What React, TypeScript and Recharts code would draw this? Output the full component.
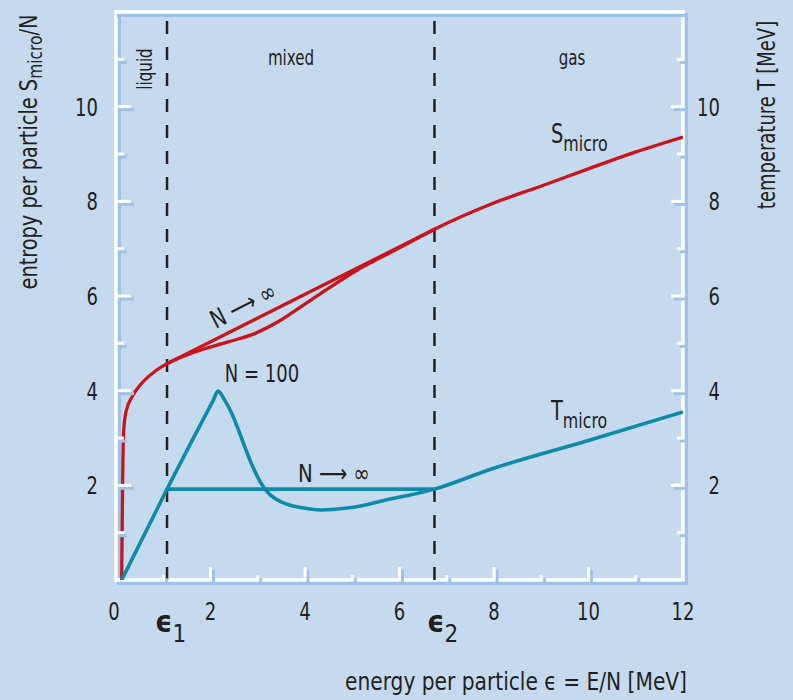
import { LineChart, Line, XAxis, YAxis, ReferenceLine } from 'recharts';

const W = 793;
const H = 700;
const BG = '#c6daef';
const SHADOW = '#9ec1e6';
const INK = '#231f20';
const RED = '#c8151c';
const TEAL = '#0d8aaa';
const FONT = "'DejaVu Sans Condensed', 'DejaVu Sans', sans-serif";

// phase boundaries (MeV)
const EPS1 = 1.08;
const EPS2 = 6.74;

// entropy S_micro/N, N = 100
const sEnergy = [0.12, 0.14, 0.16, 0.21, 0.35, 0.53, 0.8, 1.08, 1.65, 2.37, 2.92, 3.42, 3.91, 4.48, 5.11, 5.5, 6.0, 6.4, 6.74, 7.93, 8.99, 9.98, 10.99, 12];
const sMicro100 = [0, 2.0, 3.1, 3.55, 3.89, 4.14, 4.39, 4.57, 4.81, 5.03, 5.2, 5.45, 5.77, 6.15, 6.55, 6.76, 7.02, 7.23, 7.41, 7.94, 8.32, 8.68, 9.04, 9.36];
// entropy, N -> infinity (only where it differs)
const sInfEnergy = [EPS1, EPS2];
const sMicroInf = [4.57, 7.41];

// temperature T_micro, N = 100
const tEnergy = [0.12, 1.08, 2.06, 2.16, 2.3, 2.45, 2.6, 2.75, 2.9, 3.05, 3.2, 3.4, 3.65, 3.91, 4.33, 4.97, 5.67, 6.74, 7.93, 9.98, 12];
const tMicro100 = [0, 1.92, 3.8, 3.99, 3.8, 3.52, 3.15, 2.75, 2.38, 2.08, 1.86, 1.7, 1.59, 1.53, 1.48, 1.53, 1.68, 1.92, 2.34, 2.94, 3.55];
// temperature, N -> infinity (Maxwell plateau)
const tInfEnergy = [EPS1, EPS2];
const tMicroInf = [1.92, 1.92];

const xTicks = [0, 1, 2, 3, 4, 5, 6, 7, 8, 9, 10, 11, 12];
const xLabels = [0, 2, 4, 6, 8, 10, 12];
const yTicks = [1, 2, 3, 4, 5, 6, 7, 8, 9, 10, 11];
const yLabels = [2, 4, 6, 8, 10];
const topTicks = [1, 2, 3, 4, 5, 6, 7, 8, 9, 10, 11, 12, 13, 14, 15];

const zip = (xs: number[], ys: number[]) => xs.map((x, i) => ({ x, y: ys[i] }));

const whiteMark = (x1: number, y1: number, x2: number, y2: number) => (
  <g>
    <line x1={x1 + 3} y1={y1 + 3} x2={x2 + 3} y2={y2 + 3} stroke={SHADOW} strokeWidth={3} />
    <line x1={x1} y1={y1} x2={x2} y2={y2} stroke="#fff" strokeWidth={3} />
  </g>
);

const text = { fontFamily: FONT, fill: INK };

// condensed text: the installed fonts are wide, so squeeze them horizontally
const Cond = ({ x, y, rotate = 0, anchor = 'start', size, children, ...rest }: any) => (
  <text
    transform={`translate(${x},${y}) rotate(${rotate}) scale(0.8,1)`}
    textAnchor={anchor}
    fontSize={size}
    {...text}
    {...rest}
  >
    {children}
  </text>
);

const BottomTick = (p: any) => {
  const v = p.payload.value;
  const major = v % 2 === 0;
  return (
    <g>
      {v > 0 && v < 12 && whiteMark(p.x, p.y, p.x, p.y - (major ? 13 : 5))}
      {xLabels.includes(v) && (
        <Cond x={v === 0 ? p.x - 2 : p.x} y={p.y + 40} anchor="middle" size={25}>{v}</Cond>
      )}
    </g>
  );
};

const LeftTick = (p: any) => {
  const v = p.payload.value;
  const major = v % 2 === 0;
  return (
    <g>
      {whiteMark(p.x, p.y, p.x + (major ? 15 : 8), p.y)}
      {yLabels.includes(v) && (
        <Cond x={p.x - 18} y={p.y + 9} anchor="end" size={25}>{v}</Cond>
      )}
    </g>
  );
};

const RightTick = (p: any) => {
  const v = p.payload.value;
  const major = v % 2 === 0;
  return (
    <g>
      {whiteMark(p.x, p.y, p.x - (major ? 12 : 6), p.y)}
      {yLabels.includes(v) && (
        <Cond x={p.x + 37} y={p.y + 9} anchor="end" size={25}>{v}</Cond>
      )}
    </g>
  );
};

const TopTick = (p: any) => {
  const v = p.payload.value;
  const major = v % 2 === 0;
  return whiteMark(p.x, p.y, p.x, p.y + (major ? 15 : 7));
};

const FrameEdge = (p: any) => (
  <g>
    <line x1={p.x1 + 3} y1={p.y1 + 3} x2={p.x2 + 3} y2={p.y2 + 3} stroke={SHADOW} strokeWidth={4} strokeLinecap="square" />
    <line x1={p.x1} y1={p.y1} x2={p.x2} y2={p.y2} stroke="#fff" strokeWidth={3.5} strokeLinecap="square" />
  </g>
);

export default function App() {
  return (
    <div style={{ position: 'absolute', left: 0, top: 0, width: W, height: H, background: BG }}>
      <LineChart width={W} height={H} margin={{ top: 0, right: 40, bottom: 60, left: 56 }}>
        <XAxis
          dataKey="x"
          type="number"
          domain={[0, 12]}
          ticks={xTicks}
          interval={0}
          height={60}
          tickSize={0}
          tickMargin={0}
          axisLine={false}
          tickLine={false}
          tick={BottomTick}
          allowDataOverflow
        />
        <XAxis
          xAxisId="top"
          orientation="top"
          type="number"
          domain={[0, 16]}
          ticks={topTicks}
          interval={0}
          height={12}
          tickSize={0}
          tickMargin={0}
          axisLine={false}
          tickLine={false}
          tick={TopTick}
          allowDataOverflow
        />
        <YAxis
          yAxisId="s"
          type="number"
          domain={[0, 12]}
          ticks={yTicks}
          interval={0}
          width={60}
          tickSize={0}
          tickMargin={0}
          axisLine={false}
          tickLine={false}
          tick={LeftTick}
          allowDataOverflow
        />
        <YAxis
          yAxisId="t"
          orientation="right"
          type="number"
          domain={[0, 12]}
          ticks={yTicks}
          interval={0}
          width={70}
          tickSize={0}
          tickMargin={0}
          axisLine={false}
          tickLine={false}
          tick={RightTick}
          allowDataOverflow
        />

        <ReferenceLine yAxisId="s" x={0} shape={FrameEdge} />
        <ReferenceLine yAxisId="s" x={12} shape={FrameEdge} />
        <ReferenceLine yAxisId="s" y={0} shape={FrameEdge} />
        <ReferenceLine yAxisId="s" y={12} shape={FrameEdge} />

        <ReferenceLine yAxisId="s" x={EPS1} stroke="#222" strokeWidth={2.5} strokeDasharray="13 13" />
        <ReferenceLine yAxisId="s" x={EPS2} stroke="#222" strokeWidth={2.5} strokeDasharray="13 13" />

        <Line yAxisId="s" data={zip(sEnergy, sMicro100)} dataKey="y" type="monotone" stroke={RED} strokeWidth={3.3} dot={false} isAnimationActive={false} />
        <Line yAxisId="s" data={zip(sInfEnergy, sMicroInf)} dataKey="y" type="linear" stroke={RED} strokeWidth={3.3} dot={false} isAnimationActive={false} />
        <Line yAxisId="t" data={zip(tEnergy, tMicro100)} dataKey="y" type="monotone" stroke={TEAL} strokeWidth={3.6} dot={false} isAnimationActive={false} />
        <Line yAxisId="t" data={zip(tInfEnergy, tMicroInf)} dataKey="y" type="linear" stroke={TEAL} strokeWidth={3.6} dot={false} isAnimationActive={false} />
      </LineChart>

      <svg width={W} height={H} style={{ position: 'absolute', left: 0, top: 0, pointerEvents: 'none' }}>
        <text transform="translate(37,152) rotate(-90)" textAnchor="middle" fontSize={25} textLength={275} lengthAdjust="spacingAndGlyphs" {...text}>
          entropy per particle S<tspan fontSize={20} dy={5}>micro</tspan><tspan dy={-5}>/N</tspan>
        </text>
        <Cond x={775} y={115} rotate={-90} anchor="middle" size={25}>temperature T [MeV]</Cond>
        <text x={516} y={690} textAnchor="middle" fontSize={25} textLength={342} lengthAdjust="spacingAndGlyphs" {...text}>
          energy per particle ϵ = E/N [MeV]
        </text>

        <Cond x={152} y={69} rotate={-90} anchor="middle" size={21}>liquid</Cond>
        <Cond x={291} y={65} anchor="middle" size={21}>mixed</Cond>
        <Cond x={572} y={65} anchor="middle" size={21}>gas</Cond>

        <Cond x={551} y={143} size={27}>
          S<tspan fontSize={22} dy={8}>micro</tspan>
        </Cond>
        <Cond x={551} y={420} size={27}>
          T<tspan fontSize={22} dy={8}>micro</tspan>
        </Cond>
        <Cond x={262} y={382} anchor="middle" size={25}>N = 100</Cond>
        <text x={334} y={482} textAnchor="middle" fontSize={25} textLength={72} lengthAdjust="spacingAndGlyphs" {...text}>N ⟶ ∞</text>
        <text transform="translate(247,313) rotate(-27)" textAnchor="middle" fontSize={25} textLength={70} lengthAdjust="spacingAndGlyphs" {...text}>N ⟶ ∞</text>

        <text x={155} y={632} fontSize={30} fontWeight="bold" {...text}>
          ϵ<tspan fontSize={24} fontWeight="normal" dy={10}>1</tspan>
        </text>
        <text x={427} y={632} fontSize={30} fontWeight="bold" {...text}>
          ϵ<tspan fontSize={24} fontWeight="normal" dy={10}>2</tspan>
        </text>
      </svg>
    </div>
  );
}
